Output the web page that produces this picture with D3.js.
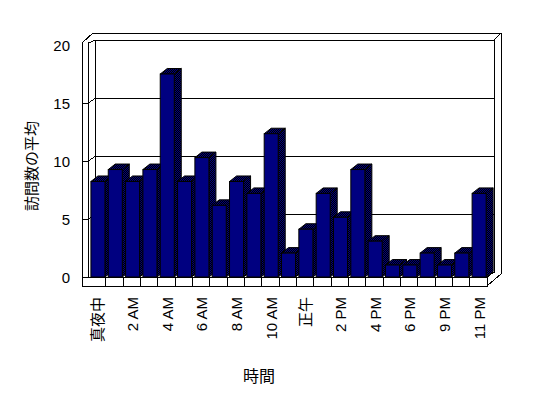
<!DOCTYPE html>
<html>
<head>
<meta charset="utf-8">
<script src="https://cdn.jsdelivr.net/npm/d3@7"></script>
<style>
  html, body { margin: 0; padding: 0; background: #fff; }
  svg text { font-family: "Liberation Sans", "Noto Sans CJK JP", sans-serif; fill: #000; }
</style>
</head>
<body>
<svg id="chart" width="548" height="398"></svg>
<script>

/* ── Data ── */
const hours = ['真夜中', '1 AM', '2 AM', '3 AM', '4 AM', '5 AM', '6 AM', '7 AM', '8 AM', '9 AM',
  '10 AM', '11 AM', '正午', '1 PM', '2 PM', '3 PM', '4 PM', '5 PM', '6 PM', '8 PM',
  '9 PM', '10 PM', '11 PM'];
const visits = [8, 9, 8, 9, 17, 8, 10, 6, 8, 7, 12, 2, 4, 7, 5, 9, 3, 1, 1, 2, 1, 2, 7];
const yTicks = [0, 5, 10, 15, 20];
const yTitle = '訪問数の平均';
const xTitle = '時間';

/* ── Geometry ── */
const svg = d3.select('#chart');
const depth = { x: 7, y: -5.5 };      // oblique depth of floor / bars
const outerLeft = 82, outerTop = 33, outerRight = 501;
const floorTop = 277, floorBottom = 286;

const xScale = d3.scaleBand().domain(hours).range([88.5, 487]);
const yFront = d3.scaleLinear().domain([0, 20]).range([floorTop, 45]);
const yBack  = d3.scaleLinear().domain([0, 20]).range([272, 40]);
const yBar   = d3.scaleLinear().domain([0, 20]).range([floorTop, 38.2]);

const x0 = xScale.range()[0], x1 = xScale.range()[1];
const bx0 = x0 + depth.x, bx1 = x1 + depth.x;

/* ── Dither pattern for side and top faces ── */
const pat = svg.append('defs').append('pattern')
  .attr('id', 'dither').attr('width', 2).attr('height', 2)
  .attr('patternUnits', 'userSpaceOnUse');
pat.append('rect').attr('width', 2).attr('height', 2).attr('fill', '#000');
pat.append('rect').attr('width', 1).attr('height', 1).attr('fill', '#000080');
pat.append('rect').attr('x', 1).attr('y', 1).attr('width', 1).attr('height', 1).attr('fill', '#000080');

const frame = svg.append('g')
  .attr('stroke', '#000').attr('stroke-width', 1).attr('fill', 'none')
  .attr('shape-rendering', 'crispEdges');

function line(g, a, b) {
  g.append('line').attr('x1', a[0]).attr('y1', a[1]).attr('x2', b[0]).attr('y2', b[1]);
}

/* ── Walls ── */
// back wall inner face and its thickness
frame.append('rect')
  .attr('x', bx0).attr('y', yBack(20))
  .attr('width', bx1 - bx0).attr('height', yBack(0) - yBack(20));
line(frame, [93, outerTop], [outerRight, outerTop]);
line(frame, [outerRight, outerTop], [outerRight, 274]);
line(frame, [bx1, yBack(20)], [outerRight, outerTop]);

// left wall front edge
line(frame, [outerLeft, 43], [outerLeft, floorBottom]);
line(frame, [x0, 43], [x0, floorTop]);
line(frame, [outerLeft, 43], [93, outerTop]);
line(frame, [x0, 43], [bx0, yBack(20)]);

// gridlines across the back wall and the left wall
yTicks.filter(v => v > 0 && v < 20).forEach(v => {
  line(frame, [bx0, yBack(v)], [bx1, yBack(v)]);
  line(frame, [x0, yFront(v)], [bx0, yBack(v)]);
  line(frame, [outerLeft, yFront(v)], [x0, yFront(v)]);
});

/* ── Floor ── */
frame.append('rect')
  .attr('x', outerLeft).attr('y', floorTop)
  .attr('width', x1 - outerLeft).attr('height', floorBottom - floorTop)
  .attr('fill', '#fff');
line(frame, [x1, floorTop], [bx1, yBack(0)]);
line(frame, [x1, floorBottom], [outerRight, 274]);
xScale.domain().forEach((d, i) => {
  if (i > 0) line(frame, [xScale(d), floorTop], [xScale(d), floorBottom]);
});

/* ── Bars ── */
const bw = xScale.bandwidth();
const barOff = bw * 0.14, barW = bw * 0.81;
const bars = svg.append('g')
  .attr('stroke', '#000').attr('stroke-width', 1).attr('stroke-linejoin', 'miter');

const rows = hours.map((h, i) => ({ hour: h, value: visits[i] }));

const barG = bars.selectAll('g.bar')
  .data(rows)
  .join('g')
  .attr('class', 'bar');

// side face
barG.append('path')
  .attr('fill', 'url(#dither)')
  .attr('d', d => {
    const xr = xScale(d.hour) + barOff + barW, yt = yBar(d.value);
    return `M${xr},${floorTop}L${xr + depth.x},${floorTop + depth.y}` +
      `L${xr + depth.x},${yt + depth.y}L${xr},${yt}Z`;
  });

// top face
barG.append('path')
  .attr('fill', 'url(#dither)')
  .attr('d', d => {
    const xl = xScale(d.hour) + barOff, yt = yBar(d.value);
    return `M${xl},${yt}L${xl + depth.x},${yt + depth.y}` +
      `L${xl + barW + depth.x},${yt + depth.y}L${xl + barW},${yt}Z`;
  });

// front face
barG.append('rect')
  .attr('fill', '#000080')
  .attr('x', d => xScale(d.hour) + barOff)
  .attr('y', d => yBar(d.value))
  .attr('width', barW)
  .attr('height', d => floorTop - yBar(d.value));

/* ── Axis labels ── */
svg.append('g').selectAll('text')
  .data(yTicks)
  .join('text')
  .attr('x', 70).attr('y', d => yFront(d))
  .attr('text-anchor', 'end').attr('dominant-baseline', 'central')
  .attr('font-size', '15px')
  .text(d => d);

svg.append('g').selectAll('text')
  .data(hours.filter((h, i) => i % 2 === 0))
  .join('text')
  .attr('transform', d => `translate(${xScale(d) + barOff + barW / 2}, 297) rotate(-90)`)
  .attr('text-anchor', 'end').attr('dominant-baseline', 'central')
  .attr('font-size', '15px')
  .text(d => d);

svg.append('text')
  .attr('transform', 'translate(31, 166) rotate(-90)')
  .attr('text-anchor', 'middle').attr('dominant-baseline', 'central')
  .attr('font-size', '15px')
  .text(yTitle);

svg.append('text')
  .attr('x', 259).attr('y', 376)
  .attr('text-anchor', 'middle').attr('dominant-baseline', 'central')
  .attr('font-size', '16px')
  .text(xTitle);

</script>
</body>
</html>
